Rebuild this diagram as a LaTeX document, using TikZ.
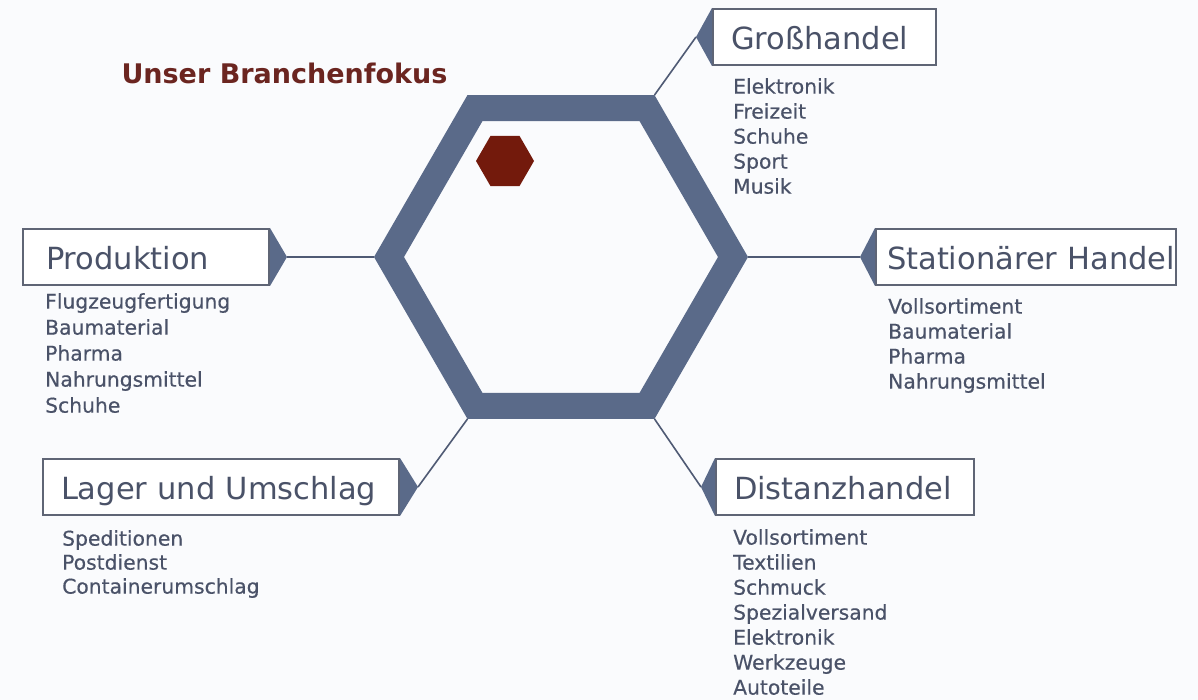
\documentclass[tikz,border=0pt]{standalone}
\usepackage{fontspec}
\setmainfont{DejaVu Sans}
\newfontfamily\listfont[FakeBold=0.4]{DejaVu Sans}
\usetikzlibrary{positioning}

\definecolor{hexblue}{HTML}{5A6A89}
\definecolor{linegray}{HTML}{4F5A74}
\definecolor{boxgray}{HTML}{5F6575}
\definecolor{txtgray}{HTML}{4A5268}
\definecolor{fokusred}{HTML}{731A0C}
\definecolor{titlered}{HTML}{6B2520}
\definecolor{bgwhite}{HTML}{FAFBFD}

\tikzset{
	catbox/.style={draw=boxgray, line width=2pt, fill=white, text=txtgray,
		anchor=north west, minimum height=56pt, inner xsep=18pt, inner ysep=0pt,
		text height=28pt, text depth=3pt, align=left,
		font=\fontsize{30.5}{36}\selectfont},
	itemlist/.style={text=txtgray, inner sep=0pt, align=left,
		font=\listfont\fontsize{20.3}{25}\selectfont},
	tab/.style={fill=hexblue},
	link/.style={draw=linegray, line width=1.6pt},
}

\begin{document}
\begin{tikzpicture}[x=1pt, y=-1pt]
			\useasboundingbox (0,0) rectangle (1198,700);
			\fill[bgwhite] (0,0) rectangle (1198,700);
			% hexagon
			\begin{scope}[shift={(561,257)}]
				\fill[hexblue, even odd rule] (0:187) \foreach \a in {60,120,...,300}{ -- (\a:187)} -- cycle
					(0:157) \foreach \a in {60,120,...,300}{ -- (\a:157)} -- cycle;
				\foreach \a/\n in {0/e,60/se,120/sw,180/w,300/ne}{
					\coordinate (hex\n) at (\a:187);
				}
			\end{scope}
			\begin{scope}[shift={(505,161)}]
				\fill[fokusred] (0:29) \foreach \a in {60,120,...,300}{ -- (\a:29)} -- cycle;
			\end{scope}
			\node[anchor=base west, text=titlered, font=\bfseries\fontsize{27}{32}\selectfont] (title) at (118,84) {Unser Branchenfokus};
			% boxes
			\node[catbox, text width=187pt] (gross) at (712,8) {Gro\ss handel};
			\node[catbox, inner xsep=23pt, text width=200pt] (prod) at (22,228) {Produktion};
			\node[catbox, inner xsep=11pt, text width=278pt] (stat) at (875,228) {\mbox{Station\"arer Handel}};
			\node[catbox, text width=320pt] (lager) at (42,458) {Lager und Umschlag};
			\node[catbox, text width=222pt] (dist) at (715,458) {Distanzhandel};
			\coordinate (grosstip) at ([xshift=-16pt]gross.west);
			\coordinate (prodtip) at ([xshift=17pt]prod.east);
			\coordinate (stattip) at ([xshift=-15pt]stat.west);
			\coordinate (lagertip) at ([xshift=18pt]lager.east);
			\coordinate (disttip) at ([xshift=-14pt]dist.west);
			\foreach \b in {gross,stat,dist}{
				\fill[tab] (\b.north west) -- (\b tip) -- (\b.south west) -- cycle;
			}
			\foreach \b in {prod,lager}{
				\fill[tab] (\b.north east) -- (\b tip) -- (\b.south east) -- cycle;
			}
			\foreach \b/\v in {gross/ne,prod/w,stat/e,lager/sw,dist/se}{
				\draw[link] (hex\v) -- (\b tip);
			}
			% lists
			\node[itemlist, below right=12pt and 21pt of gross.south west] (grosslist) {Elektronik\\Freizeit\\Schuhe\\Sport\\Musik};
			\node[itemlist, below right=7pt and 23pt of prod.south west, font=\listfont\fontsize{20.3}{26}\selectfont] (prodlist) {Flugzeugfertigung\\Baumaterial\\Pharma\\Nahrungsmittel\\Schuhe};
			\node[itemlist, below right=12pt and 13pt of stat.south west] (statlist) {Vollsortiment\\Baumaterial\\Pharma\\Nahrungsmittel};
			\node[itemlist, below right=14pt and 20pt of lager.south west, font=\listfont\fontsize{20.3}{24}\selectfont] (lagerlist) {Speditionen\\Postdienst\\Containerumschlag};
			\node[itemlist, below right=13pt and 18pt of dist.south west] (distlist) {Vollsortiment\\Textilien\\Schmuck\\Spezialversand\\Elektronik\\Werkzeuge\\Autoteile};
		\end{tikzpicture}
\end{document}
